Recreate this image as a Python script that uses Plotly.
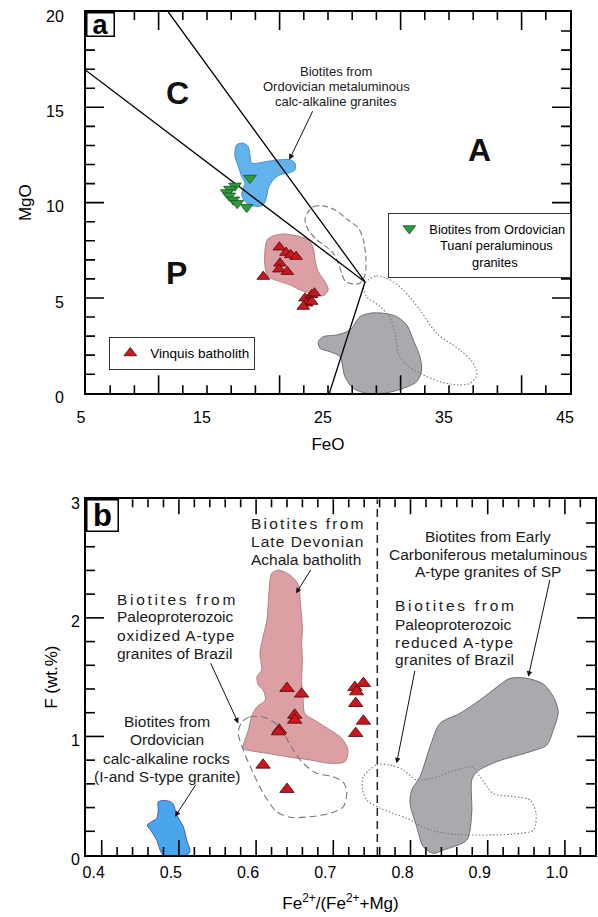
import plotly.graph_objects as go

FONT = "Liberation Sans, Arial, sans-serif"

feo_tick_labels = [5, 15, 25, 35, 45]
mgo_tick_labels = [0, 5, 10, 15, 20]

line1_feo = [5.0, 28.06]
line1_mgo = [16.93, 5.84]
line2_feo = [11.8, 28.06]
line2_mgo = [20.0, 5.84]
line3_feo = [28.06, 25.11]
line3_mgo = [5.84, 0.0]

calc_a_feo = [17.45, 18.00, 18.41, 18.55, 18.69, 19.93, 21.03, 21.86, 22.27, 22.27, 21.86, 21.03, 20.48,
              20.07, 19.93, 19.65, 19.11, 18.55, 18.14, 17.87, 18.00, 18.14, 17.87, 17.59, 17.31]
calc_a_mgo = [13.03, 13.12, 12.94, 12.51, 12.07, 12.16, 12.25, 12.25, 12.07, 11.72, 11.58, 11.46, 11.20,
              10.76, 10.32, 9.88, 9.80, 9.88, 10.06, 10.41, 10.76, 11.02, 11.37, 11.90, 12.42]

pink_a_feo = [20.48, 21.31, 22.41, 23.37, 23.79, 23.93, 24.20, 24.75, 25.02, 24.61, 23.79, 22.69, 21.86,
              21.03, 20.07, 19.79, 19.79, 19.98]
pink_a_mgo = [8.26, 8.36, 8.26, 8.05, 7.61, 7.00, 6.38, 5.86, 5.42, 5.12, 5.21, 5.42, 5.69,
              5.86, 6.12, 6.65, 7.52, 8.05]

dash_a_feo = [23.37, 23.79, 24.61, 25.58, 26.65, 27.50, 27.92, 28.14, 28.06, 27.64, 26.98, 26.40, 26.13,
              25.85, 25.44, 24.75, 24.07, 23.37, 23.10]
dash_a_mgo = [9.53, 9.78, 9.83, 9.62, 9.10, 8.68, 8.05, 7.00, 6.21, 5.77, 5.74, 5.90, 6.30,
              6.82, 7.35, 7.73, 8.05, 8.57, 9.10]

dot_a_feo = [28.33, 29.02, 30.12, 31.22, 32.60, 33.98, 35.91, 37.01, 37.29, 36.74, 35.64, 34.26, 32.60,
             31.36, 30.81, 30.54, 30.12, 29.30, 28.20, 27.92]
dot_a_mgo = [5.95, 6.16, 5.95, 5.42, 4.37, 3.15, 2.27, 1.57, 0.96, 0.52, 0.44, 0.61, 1.05,
             1.57, 2.10, 3.15, 3.94, 4.55, 5.07, 5.60]

gray_a_feo = [24.20, 24.61, 25.72, 26.82, 27.64, 28.47, 29.57, 30.68, 31.50, 32.05, 32.60, 32.74, 32.33,
              31.22, 29.85, 28.20, 27.09, 26.40, 25.99, 25.17, 24.34]
gray_a_mgo = [2.71, 2.97, 3.06, 3.32, 4.02, 4.20, 4.20, 4.02, 3.59, 2.80, 1.92, 1.22, 0.61,
              0.26, 0.03, 0.0, 0.26, 0.87, 1.92, 2.18, 2.36]

tuani_feo = [18.55, 17.31, 16.90, 16.63, 16.84, 17.17, 17.50, 18.28]
tuani_mgo = [11.29, 10.88, 10.71, 10.53, 10.36, 10.15, 9.97, 9.76]

vinq_a_feo = [20.98, 21.53, 21.92, 22.36, 21.03, 20.95, 21.64, 19.65, 23.10, 23.65, 23.87, 23.24, 22.96, 23.65]
vinq_a_mgo = [7.66, 7.38, 7.26, 7.17, 6.82, 6.51, 6.38, 6.12, 4.99, 5.16, 5.25, 4.72, 4.55, 4.81]

ratio_tick_labels = [0.4, 0.5, 0.6, 0.7, 0.8, 0.9, 1.0]
f_tick_labels = [0, 1, 2, 3]
boundary_ratio = [0.757, 0.757]
boundary_f = [0.0, 3.0]

achala_x = [0.620, 0.629, 0.644, 0.655, 0.657, 0.659, 0.660, 0.659, 0.660, 0.659, 0.661, 0.663, 0.679,
            0.696, 0.711, 0.719, 0.715, 0.696, 0.670, 0.640, 0.614, 0.588, 0.583, 0.590, 0.594, 0.601,
            0.612, 0.609, 0.603, 0.601, 0.607, 0.605, 0.609, 0.614, 0.616, 0.618]
achala_f = [2.375, 2.403, 2.361, 2.277, 2.150, 2.009, 1.897, 1.785, 1.644, 1.476, 1.307, 1.195, 1.124,
            1.054, 0.984, 0.885, 0.787, 0.773, 0.801, 0.829, 0.858, 0.885, 0.900, 1.054, 1.166, 1.250,
            1.307, 1.391, 1.433, 1.503, 1.560, 1.701, 1.841, 1.981, 2.150, 2.319]

oxid_x = [0.5813, 0.5921, 0.6076, 0.6206, 0.6310, 0.6387, 0.6465, 0.6595, 0.6776, 0.6996, 0.7126,
          0.7174, 0.7130, 0.6957, 0.6698, 0.6439, 0.6267, 0.6093, 0.5964, 0.5834, 0.5769]
oxid_f = [1.121, 1.166, 1.166, 1.130, 1.079, 0.995, 0.902, 0.784, 0.691, 0.660, 0.616,
          0.531, 0.407, 0.352, 0.323, 0.318, 0.365, 0.520, 0.689, 0.885, 1.026]

reduc_x = [0.7389, 0.7562, 0.7735, 0.7907, 0.8080, 0.8339, 0.8598, 0.8793, 0.8900, 0.9073, 0.9332,
           0.9548, 0.9626, 0.9591, 0.9332, 0.8900, 0.8555, 0.8253, 0.7951, 0.7605, 0.7433, 0.7381]
reduc_f = [0.660, 0.759, 0.759, 0.717, 0.632, 0.660, 0.717, 0.745, 0.660, 0.520, 0.492,
           0.464, 0.352, 0.211, 0.177, 0.169, 0.175, 0.211, 0.309, 0.394, 0.464, 0.548]

sp_x = [0.7994, 0.8016, 0.8123, 0.8253, 0.8382, 0.8641, 0.8900, 0.9120, 0.9289, 0.9505, 0.9720, 0.9850,
        0.9914, 0.9850, 0.9764, 0.9548, 0.9117, 0.8858, 0.8793, 0.8793, 0.8728, 0.8425, 0.8295, 0.8166, 0.8080]
sp_f = [0.436, 0.548, 0.660, 0.913, 1.110, 1.195, 1.307, 1.417, 1.490, 1.490, 1.442, 1.335,
        1.208, 1.054, 0.927, 0.871, 0.787, 0.702, 0.632, 0.352, 0.126, 0.042, 0.014, 0.070, 0.239]

calc_b_x = [0.4733, 0.4842, 0.4920, 0.4972, 0.5057, 0.5101, 0.5144, 0.5101, 0.4798, 0.4712, 0.4648,
            0.4591, 0.4648, 0.4712, 0.4733]
calc_b_f = [0.449, 0.458, 0.436, 0.337, 0.239, 0.126, 0.028, 0.0, 0.0, 0.126, 0.196,
            0.253, 0.281, 0.309, 0.379]

vinq_b_x = [0.640, 0.659, 0.650, 0.650, 0.630, 0.629, 0.609, 0.640, 0.728, 0.730, 0.739, 0.729, 0.739, 0.729]
vinq_b_f = [1.406, 1.358, 1.180, 1.138, 1.054, 1.040, 0.759, 0.554, 1.414, 1.377, 1.448, 1.279, 1.130, 1.026]

BLUE_A = "#62b2ec"
BLUE_A_LINE = "#4a8fc4"
BLUE_B = "#4aa6ea"
BLUE_B_LINE = "#5550c8"
PINK = "#dc9fa4"
PINK_LINE = "#a27275"
GRAY = "#a9aaae"
GRAY_LINE = "#6f6f70"
RED = "#c8171e"
RED_LINE = "#4a0808"
GREEN = "#2f9a3c"
GREEN_LINE = "#1a5522"
OUTLINE = "#777777"

A_X_DOM = [0, 0.95088]
A_Y_DOM = [0.54769, 1]
B_X_DOM = [0, 1]
B_Y_DOM = [0, 0.42195]
A_X_RANGE = [5, 45]
A_Y_RANGE = [0, 20]
B_X_RANGE = [0.37966, 1.03899]
B_Y_RANGE = [0, 3]


def closed(xs, ys):
    return list(xs) + [xs[0]], list(ys) + [ys[0]]


fig = go.Figure()


def field(xs, ys, fill, line, xa, ya, width=1.0, dash=None, filled=True):
    cx, cy = closed(xs, ys)
    fig.add_trace(go.Scatter(
        x=cx, y=cy, xaxis=xa, yaxis=ya, mode="lines",
        line=dict(color=line, width=width, shape="spline", smoothing=0.8, dash=dash),
        fill="toself" if filled else None, fillcolor=fill if filled else None,
        showlegend=False, hoverinfo="skip"))


def straight(xs, ys, xa, ya, color="black", width=1.3, dash=None):
    fig.add_trace(go.Scatter(x=xs, y=ys, xaxis=xa, yaxis=ya, mode="lines",
                             line=dict(color=color, width=width, dash=dash),
                             showlegend=False, hoverinfo="skip"))


field(gray_a_feo, gray_a_mgo, GRAY, GRAY_LINE, "x", "y")
field(calc_a_feo, calc_a_mgo, BLUE_A, BLUE_A_LINE, "x", "y")
field(pink_a_feo, pink_a_mgo, PINK, PINK_LINE, "x", "y", width=0.8)
field(dash_a_feo, dash_a_mgo, None, OUTLINE, "x", "y", width=1.1, dash="6px,3px", filled=False)
field(dot_a_feo, dot_a_mgo, None, OUTLINE, "x", "y", width=1.1, dash="1.5px,2px", filled=False)
straight(line1_feo, line1_mgo, "x", "y")
straight(line2_feo, line2_mgo, "x", "y")
straight(line3_feo, line3_mgo, "x", "y")

fig.add_trace(go.Scatter(
    x=tuani_feo, y=tuani_mgo, xaxis="x", yaxis="y", mode="markers",
    marker=dict(symbol="triangle-down", size=11, color=GREEN, line=dict(color=GREEN_LINE, width=0.8)),
    name="Biotites from Ordovician<br>\u00a0\u00a0\u00a0Tuaní peraluminous<br>"
         "\u00a0\u00a0\u00a0\u00a0\u00a0\u00a0\u00a0\u00a0\u00a0\u00a0\u00a0\u00a0granites",
    legend="legend2", showlegend=True))
fig.add_trace(go.Scatter(
    x=vinq_a_feo, y=vinq_a_mgo, xaxis="x", yaxis="y", mode="markers",
    marker=dict(symbol="triangle-up", size=11, color=RED, line=dict(color=RED_LINE, width=0.8)),
    name="Vinquis batholith", legend="legend", showlegend=True))

field(sp_x, sp_f, GRAY, GRAY_LINE, "x2", "y2")
field(achala_x, achala_f, PINK, PINK_LINE, "x2", "y2", width=0.8)
field(calc_b_x, calc_b_f, BLUE_B, BLUE_B_LINE, "x2", "y2")
field(oxid_x, oxid_f, None, OUTLINE, "x2", "y2", width=1.1, dash="7px,4px", filled=False)
field(reduc_x, reduc_f, None, OUTLINE, "x2", "y2", width=1.1, dash="1.5px,2px", filled=False)
straight(boundary_ratio, boundary_f, "x2", "y2", color="#222222", width=1.5, dash="8px,5px")

fig.add_trace(go.Scatter(
    x=vinq_b_x, y=vinq_b_f, xaxis="x2", yaxis="y2", mode="markers",
    marker=dict(symbol="triangle-up", size=12.5, color=RED, line=dict(color=RED_LINE, width=0.8)),
    name="Vinquis batholith", showlegend=False))

ann = []


def lines_block(lines, x, ys, xref, yref, size, xanchor="center", spacing=None):
    for i, (txt, yy) in enumerate(zip(lines, ys)):
        ls = spacing[i] if spacing else 0
        t = txt if ls < 0.2 else '<span style="letter-spacing:%.2fpx">%s</span>' % (ls, txt)
        ann.append(dict(text=t, x=x, y=yy, xref=xref, yref=yref, xanchor=xanchor, yanchor="middle",
                        showarrow=False, font=dict(size=size, family=FONT, color="#1a1a1a")))


def arrow(hx, hy, tx, ty, xref, yref):
    ann.append(dict(text="", x=hx, y=hy, ax=tx, ay=ty, xref=xref, yref=yref, axref=xref, ayref=yref,
                    showarrow=True, arrowhead=2, arrowsize=1.1, arrowwidth=1, arrowcolor="#111111",
                    standoff=0, startstandoff=0))


lines_block(["Biotites from", "Ordovician metaluminous", "calc-alkaline granites"],
            25.68, [16.87, 16.08, 15.29], "x", "y", 13)
arrow(21.80, 12.25, 23.79, 14.87, "x", "y")
for letter, lx, ly in [("C", 12.60, 15.76), ("A", 37.56, 12.77), ("P", 12.52, 6.32)]:
    ann.append(dict(text="<b>%s</b>" % letter, x=lx, y=ly, xref="x", yref="y", showarrow=False,
                    font=dict(size=32, family=FONT, color="#111111")))
ann.append(dict(text="<b>a</b>", x=0, y=1, xref="x domain", yref="y domain", xanchor="left", yanchor="top",
                showarrow=False, width=26, height=22, borderpad=0, bordercolor="black", borderwidth=1.5,
                bgcolor="white", font=dict(size=27, family=FONT, color="black")))

lines_block(["Biotites from", "Late Devonian", "Achala batholith"],
            0.5912, [2.797, 2.642, 2.493], "x2", "y2", 15.5, xanchor="left", spacing=[2.19, 1.04, 0.14])
arrow(0.6517, 2.207, 0.672, 2.417, "x2", "y2")
lines_block(["Biotites from", "Paleoproterozoic", "oxidized A-type", "granites of Brazil"],
            0.4172, [2.156, 2.009, 1.855, 1.701], "x2", "y2", 15.5, xanchor="left",
            spacing=[2.68, 0.13, 0.88, 0.17])
arrow(0.577, 1.110, 0.5403, 1.630, "x2", "y2")
lines_block(["Biotites from", "Ordovician", "calc-alkaline rocks", "(I-and S-type granite)"],
            0.4842, [1.124, 0.970, 0.815, 0.666], "x2", "y2", 15.5)
arrow(0.495, 0.323, 0.523, 0.605, "x2", "y2")
lines_block(["Biotites from", "Paleoproterozoic", "reduced A-type", "granites of Brazil"],
            0.7769, [2.102, 1.948, 1.796, 1.650], "x2", "y2", 15.5, xanchor="left",
            spacing=[2.74, 0.18, 1.07, 0.21])
arrow(0.782, 0.773, 0.806, 1.566, "x2", "y2")
lines_block(["Biotites from Early", "Carboniferous metaluminous", "A-type granites of SP"],
            0.9008, [2.690, 2.538, 2.389], "x2", "y2", 15.5)
arrow(0.9526, 1.503, 0.981, 2.333, "x2", "y2")
ann.append(dict(text="<b>b</b>", x=0, y=1, xref="x2 domain", yref="y2 domain", xanchor="left", yanchor="top",
                showarrow=False, width=30, height=30, borderpad=0, bordercolor="black", borderwidth=1.5,
                bgcolor="white", font=dict(size=31, family=FONT, color="black")))

# inward tick marks on all four sides of both panels, placed on the axis scales
feo_tick_marks = list(range(7, 45, 2))
feo_long = [11, 21, 31, 41]
mgo_tick_marks = list(range(1, 20))
ratio_tick_marks = [k / 50 for k in range(20, 52)]
f_tick_marks = [k / 5 for k in range(1, 15)]

shapes = []
TICK = dict(color="black", width=1.6)


def x_ticks(vals, lengths, xref, ydom):
    for v, L in zip(vals, lengths):
        for anchor, sgn in ((0, 1), (1, -1)):
            shapes.append(dict(type="line", xref=xref, yref=ydom, ysizemode="pixel", yanchor=anchor,
                               x0=v, x1=v, y0=0, y1=sgn * L, line=TICK, layer="above"))


def y_ticks(vals, lengths, yref, xdom):
    for v, L in zip(vals, lengths):
        for anchor, sgn in ((0, 1), (1, -1)):
            shapes.append(dict(type="line", yref=yref, xref=xdom, xsizemode="pixel", xanchor=anchor,
                               y0=v, y1=v, x0=0, x1=sgn * L, line=TICK, layer="above"))


x_ticks(feo_tick_marks, [18 if v in feo_long else 8 for v in feo_tick_marks], "x", "y domain")
y_ticks(mgo_tick_marks, [18 if v % 5 == 0 else 9 for v in mgo_tick_marks], "y", "x domain")
x_ticks(ratio_tick_marks, [15 if round(v * 50) % 5 == 0 else 8 for v in ratio_tick_marks], "x2", "y2 domain")
y_ticks(f_tick_marks, [18 if round(v * 5) % 5 == 0 else 9 for v in f_tick_marks], "y2", "x2 domain")

main = dict(showline=True, linewidth=2, linecolor="black", mirror=True, showgrid=False, zeroline=False,
            ticks="")

fig.update_layout(
    template="none",
    width=598, height=917,
    margin=dict(l=86, r=3, t=12, b=62),
    paper_bgcolor="white", plot_bgcolor="white",
    font=dict(family=FONT, color="black"),
    xaxis=dict(domain=A_X_DOM, range=A_X_RANGE, anchor="y", tickmode="array", tickvals=feo_tick_labels,
               tickfont=dict(size=16), ticklabelshift=-5, ticklabelstandoff=9,
               title=dict(text="FeO", font=dict(size=17), standoff=13), **main),
    yaxis=dict(domain=A_Y_DOM, range=A_Y_RANGE, anchor="x", tickmode="array", tickvals=mgo_tick_labels,
               tickfont=dict(size=16), ticklabelshift=4, ticklabelstandoff=17,
               title=dict(text="MgO", font=dict(size=17), standoff=10), **main),
    xaxis2=dict(domain=B_X_DOM, range=B_X_RANGE, anchor="y2", tickmode="array",
                tickvals=ratio_tick_labels, ticktext=["%.1f" % v for v in ratio_tick_labels],
                tickfont=dict(size=16), ticklabelshift=-8, ticklabelstandoff=2,
                title=dict(text="Fe<sup>2+</sup>/(Fe<sup>2+</sup>+Mg)", font=dict(size=17), standoff=17),
                **main),
    yaxis2=dict(domain=B_Y_DOM, range=B_Y_RANGE, anchor="x2", tickmode="array", tickvals=f_tick_labels,
                tickfont=dict(size=16), ticklabelshift=4, ticklabelstandoff=1,
                title=dict(text="F (wt.%)", font=dict(size=17), standoff=9), **main),
    legend=dict(x=0.0458, y=0.6148, xanchor="left", yanchor="top", bordercolor="#333333", borderwidth=1,
                bgcolor="white", font=dict(size=13.5, family=FONT), itemwidth=30, valign="middle"),
    legend2=dict(x=0.594, y=0.7619, xanchor="left", yanchor="top", bordercolor="#333333", borderwidth=1,
                 bgcolor="white", font=dict(size=12.8, family=FONT), itemwidth=30, valign="top"),
    annotations=ann,
    shapes=shapes,
)

fig.write_html("out.html")
